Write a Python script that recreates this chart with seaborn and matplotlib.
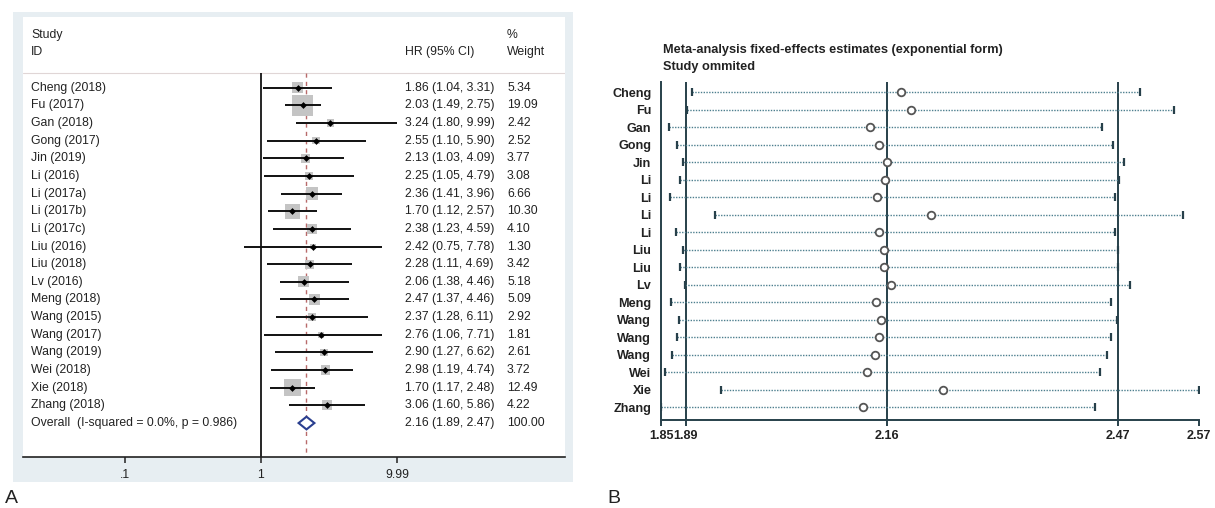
import numpy as np
import pandas as pd
import matplotlib
matplotlib.use("Agg")
import matplotlib.pyplot as plt
from matplotlib.patches import Rectangle, Polygon
import seaborn as sns

sns.set_theme(style="white")
plt.rcParams['font.family'] = ['Liberation Sans', 'DejaVu Sans']

# ---------------- Panel A data ----------------
studies = ["Cheng (2018)", "Fu (2017)", "Gan (2018)", "Gong (2017)", "Jin (2019)",
           "Li (2016)", "Li (2017a)", "Li (2017b)", "Li (2017c)", "Liu (2016)",
           "Liu (2018)", "Lv (2016)", "Meng (2018)", "Wang (2015)", "Wang (2017)",
           "Wang (2019)", "Wei (2018)", "Xie (2018)", "Zhang (2018)"]
hr = [1.86, 2.03, 3.24, 2.55, 2.13, 2.25, 2.36, 1.70, 2.38, 2.42,
      2.28, 2.06, 2.47, 2.37, 2.76, 2.90, 2.98, 1.70, 3.06]
hr_lo = [1.04, 1.49, 1.80, 1.10, 1.03, 1.05, 1.41, 1.12, 1.23, 0.75,
         1.11, 1.38, 1.37, 1.28, 1.06, 1.27, 1.19, 1.17, 1.60]
hr_hi = [3.31, 2.75, 9.99, 5.90, 4.09, 4.79, 3.96, 2.57, 4.59, 7.78,
         4.69, 4.46, 4.46, 6.11, 7.71, 6.62, 4.74, 2.48, 5.86]
weights = [5.34, 19.09, 2.42, 2.52, 3.77, 3.08, 6.66, 10.30, 4.10, 1.30,
           3.42, 5.18, 5.09, 2.92, 1.81, 2.61, 3.72, 12.49, 4.22]
overall_label = "Overall  (I-squared = 0.0%, p = 0.986)"
overall_hr, overall_lo, overall_hi, overall_wt = 2.16, 1.89, 2.47, 100.00
a_ticks = [0.1, 1, 9.99]
a_ticklabels = [".1", "1", "9.99"]

# ---------------- Panel B data ----------------
omitted = ["Cheng", "Fu", "Gan", "Gong", "Jin", "Li", "Li", "Li", "Li", "Liu",
           "Liu", "Lv", "Meng", "Wang", "Wang", "Wang", "Wei", "Xie", "Zhang"]
b_est = [2.175, 2.189, 2.134, 2.146, 2.157, 2.154, 2.143, 2.216, 2.146, 2.153,
         2.152, 2.162, 2.142, 2.149, 2.146, 2.140, 2.130, 2.231, 2.124]
b_lo = [1.896, 1.889, 1.865, 1.875, 1.883, 1.879, 1.866, 1.926, 1.874, 1.883,
        1.879, 1.886, 1.867, 1.878, 1.876, 1.869, 1.859, 1.934, 1.854]
b_hi = [2.495, 2.540, 2.444, 2.459, 2.473, 2.467, 2.462, 2.552, 2.462, 2.465,
        2.465, 2.482, 2.456, 2.464, 2.456, 2.451, 2.442, 2.574, 2.435]
b_overall = [1.887, 2.157, 2.465]
b_ticks = [1.854, 1.887, 2.157, 2.465, 2.574]
b_ticklabels = ["1.85", "1.89", "2.16", "2.47", "2.57"]
b_title = "Meta-analysis fixed-effects estimates (exponential form)"
b_subtitle = "Study ommited"

# ---------------- figure ----------------
W, H = 1215, 508
fig = plt.figure(figsize=(W / 100, H / 100), dpi=100)
fig.patch.set_facecolor("white")

def fx(px):
    return px / W

def fy(py):
    return 1 - py / H

# Panel A grey frame
fig.patches.append(Rectangle((fx(13), fy(482)), (573 - 13) / W, (482 - 12) / H,
                             transform=fig.transFigure, facecolor="#e7eef2",
                             edgecolor="none", zorder=-5))

axA = fig.add_axes([fx(23), fy(457), (565 - 23) / W, (457 - 17) / H])
axA.set_zorder(2)
axA.set_facecolor("white")
axA.set_xscale("log")
row_px0, row_dy = 87.7, 17.65
axA.set_xlim(10 ** ((23 - 261) / 136), 10 ** ((565 - 261) / 136))
axA.set_ylim((457 - row_px0) / row_dy, (17 - row_px0) / row_dy)
n = len(studies)
rows = np.arange(n)
dfA = pd.DataFrame({"study": studies, "hr": hr, "lo": hr_lo, "hi": hr_hi,
                    "weight": weights, "row": rows})

head_y = (73 - row_px0) / row_dy
axA.axhline(head_y, color="#e0d6d6", lw=0.8, zorder=1)
axA.vlines(1, head_y, axA.get_ylim()[0], color="black", lw=1.2, zorder=2)
axA.vlines(overall_hr, head_y, axA.get_ylim()[0], color="#b86a6a", lw=1.0,
           linestyles=(0, (3, 3)), zorder=2)

# weight squares
sns.scatterplot(data=dfA, x="hr", y="row", size="weight", sizes=(0, 11.94 * 20),
                size_norm=(0, 20), marker="s", color="#c4c4c4", linewidth=0,
                legend=False, ax=axA, zorder=3)
axA.hlines(rows, dfA["lo"], dfA["hi"], color="#111111", lw=1.4, zorder=4)
sns.scatterplot(data=dfA, x="hr", y="row", marker="D", s=12, color="black",
                linewidth=0, legend=False, ax=axA, zorder=5)

# overall diamond
oy = n
axA.add_patch(Polygon([(overall_lo, oy), (overall_hr, oy - 0.36),
                       (overall_hi, oy), (overall_hr, oy + 0.36)],
                      closed=True, facecolor="white", edgecolor="#2a3f8f",
                      lw=1.5, zorder=5))

tA = axA.get_yaxis_transform()
fs = 8.8
x_lab, x_hr, x_wt = (31 - 23) / 542, (405 - 23) / 542, (507 - 23) / 542
for i in range(n):
    axA.text(x_lab, i, studies[i], transform=tA, fontsize=fs, va="center", ha="left", color="#222222")
    axA.text(x_hr, i, f"{hr[i]:.2f} ({hr_lo[i]:.2f}, {hr_hi[i]:.2f})", transform=tA,
             fontsize=fs, va="center", ha="left", color="#222222")
    axA.text(x_wt, i, f"{weights[i]:.2f}", transform=tA, fontsize=fs, va="center",
             ha="left", color="#222222")
axA.text(x_lab, oy, overall_label, transform=tA, fontsize=fs, va="center", ha="left", color="#222222")
axA.text(x_hr, oy, f"{overall_hr:.2f} ({overall_lo:.2f}, {overall_hi:.2f})", transform=tA,
         fontsize=fs, va="center", ha="left", color="#222222")
axA.text(x_wt, oy, f"{overall_wt:.2f}", transform=tA, fontsize=fs, va="center", ha="left", color="#222222")
y_study = (35 - row_px0) / row_dy
y_id = (52 - row_px0) / row_dy
axA.text(x_lab, y_study, "Study", transform=tA, fontsize=fs, va="center", ha="left", color="#222222")
axA.text(x_lab, y_id, "ID", transform=tA, fontsize=fs, va="center", ha="left", color="#222222")
axA.text(x_hr, y_id, "HR (95% CI)", transform=tA, fontsize=fs, va="center", ha="left", color="#222222")
axA.text(x_wt, y_study, "%", transform=tA, fontsize=fs, va="center", ha="left", color="#222222")
axA.text(x_wt, y_id, "Weight", transform=tA, fontsize=fs, va="center", ha="left", color="#222222")

for s in ["top", "right", "left"]:
    axA.spines[s].set_visible(False)
axA.spines["bottom"].set_color("#222222")
axA.spines["bottom"].set_linewidth(1.2)
axA.set_xticks(a_ticks)
axA.set_xticklabels(a_ticklabels)
axA.xaxis.set_minor_locator(matplotlib.ticker.NullLocator())
axA.tick_params(axis="x", which="major", bottom=True, length=4, width=1.1, color="#222222",
                labelsize=fs, pad=5, labelcolor="#222222")
axA.set_yticks([])
axA.set_xlabel("")
axA.set_ylabel("")

# ---------------- Panel B ----------------
axB = fig.add_axes([fx(661), fy(420), (1199 - 661) / W, (420 - 82) / H])
axB.set_facecolor("white")
dark = "#27404a"
rowsB = np.arange(len(omitted))
dfB = pd.DataFrame({"est": b_est, "lo": b_lo, "hi": b_hi, "row": rowsB})
axB.set_xlim(b_ticks[0], b_ticks[-1])
axB.set_ylim(len(omitted) - 1 + 0.73, -0.59)
for v in b_overall:
    axB.axvline(v, color=dark, lw=1.4, zorder=2)
axB.hlines(rowsB, dfB["lo"], dfB["hi"], color="#4d7f8e", lw=1.0,
           linestyles=(0, (1, 1)), zorder=3)
axB.plot(dfB["lo"], rowsB, ls="none", marker="|", ms=6, mew=1.6, color=dark, zorder=4)
axB.plot(dfB["hi"], rowsB, ls="none", marker="|", ms=6, mew=1.6, color=dark, zorder=4)
sns.scatterplot(data=dfB, x="est", y="row", marker="o", s=30, facecolor="white",
                edgecolor="#555555", linewidth=1.3, legend=False, ax=axB, zorder=5)
for s in ["top", "right"]:
    axB.spines[s].set_visible(False)
for s in ["left", "bottom"]:
    axB.spines[s].set_color(dark)
    axB.spines[s].set_linewidth(1.4)
axB.set_yticks(rowsB)
axB.set_yticklabels(omitted, fontweight="bold")
axB.set_xticks(b_ticks)
axB.set_xticklabels(b_ticklabels, fontweight="bold")
axB.tick_params(axis="y", left=False, length=0, pad=7, labelsize=9.1, labelcolor="#222222")
axB.tick_params(axis="x", bottom=True, length=4, width=1.4, color=dark, pad=3,
                labelsize=9.1, labelcolor="#222222")
axB.set_xlabel("")
axB.set_ylabel("")

fig.text(fx(663), fy(50), b_title, fontsize=9.2, fontweight="bold", va="center", ha="left", color="#222222")
fig.text(fx(663), fy(67), b_subtitle, fontsize=9.2, fontweight="bold", va="center", ha="left", color="#222222")

fig.text(fx(5), fy(507), "A", fontsize=14, va="bottom", ha="left", color="#222222")
fig.text(fx(607), fy(507), "B", fontsize=14, va="bottom", ha="left", color="#222222")

fig.savefig("out.png", dpi=100)
